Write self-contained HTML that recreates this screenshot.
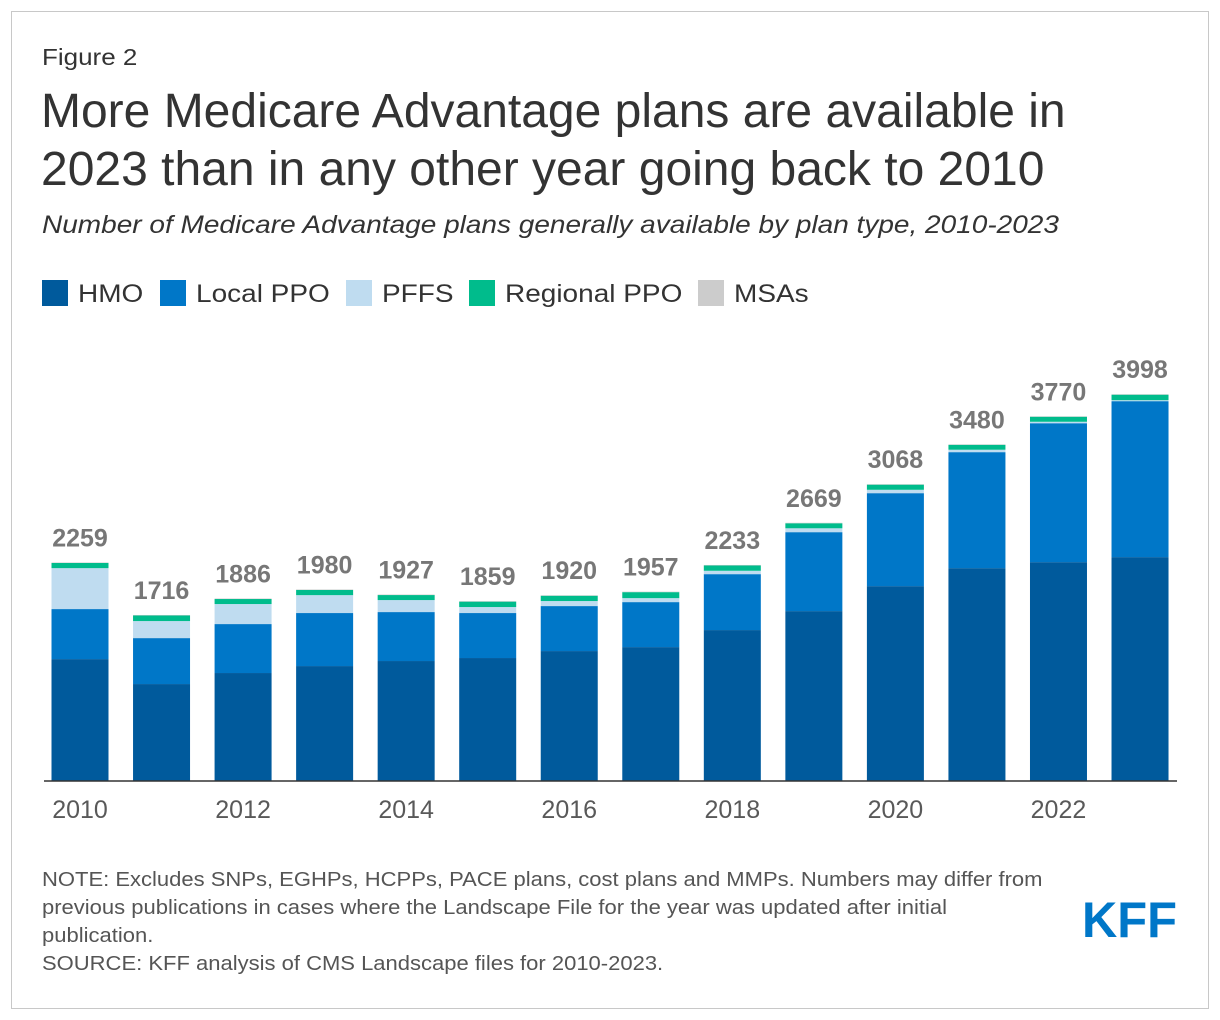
<!DOCTYPE html>
<html><head><meta charset="utf-8">
<style>
body{margin:0;background:#fff;font-family:"Liberation Sans",sans-serif;}
#frame{position:absolute;left:11px;top:11px;width:1196px;height:996px;border:1px solid #c8c8c8;}
.t{position:absolute;color:#333;white-space:nowrap;transform-origin:0 0;}
</style></head>
<body>
<div id="frame"></div>
<div class="t" style="left:42px;top:44px;font-size:23px;transform:scaleX(1.13);">Figure 2</div>
<div class="t" style="left:41px;top:83px;font-size:48px;line-height:58px;">More Medicare Advantage plans are available in<br>2023 than in any other year going back to 2010</div>
<div class="t" style="left:42px;top:211px;font-size:25px;font-style:italic;transform:scaleX(1.12);">Number of Medicare Advantage plans generally available by plan type, 2010-2023</div>
<svg width="1220" height="1020" style="position:absolute;left:0;top:0" id="chart">
<text x="1082" y="937" font-family="Liberation Sans" font-weight="bold" font-size="50" fill="#0077c8" textLength="95" lengthAdjust="spacingAndGlyphs">KFF</text>
</svg>
<div class="t" style="left:42px;top:866px;font-size:20px;line-height:28px;color:#555;transform:scaleX(1.1);">NOTE: Excludes SNPs, EGHPs, HCPPs, PACE plans, cost plans and MMPs. Numbers may differ from<br>previous publications in cases where the Landscape File for the year was updated after initial<br>publication.<br>SOURCE: KFF analysis of CMS Landscape files for 2010-2023.</div>
<script>
const years=[2010,2011,2012,2013,2014,2015,2016,2017,2018,2019,2020,2021,2022,2023];
const totals=[2259,1716,1886,1980,1927,1859,1920,1957,2233,2669,3068,3480,3770,3998];
const hmo=[1260,1002,1116,1188,1240,1271,1343,1384,1560,1756,2014,2200,2262,2314];
const localPpo=[517,475,506,548,506,465,465,465,578,816,961,1199,1436,1612];
const pffs=[423,176,207,185,124,62,52,41,35,40,35,25,15,10];
const regionalPpo=[54,58,52,54,52,56,55,62,55,52,53,51,52,57];
const msas=[5,5,5,5,5,5,5,5,5,5,5,5,5,5];
const seriesNames=["HMO","Local PPO","PFFS","Regional PPO","MSAs"];
const seriesColors=["#005a9c","#0077c8","#bfdcf0","#00bc8c","#cccccc"];
const svg=document.getElementById('chart');const NS="http://www.w3.org/2000/svg";
const base=781,scale=387/4000,slot=81.54,bw=57;
const yS=v=>base-v*scale;const xC=i=>80+slot*i;
function mk(t,a){const e=document.createElementNS(NS,t);for(const k in a)e.setAttribute(k,a[k]);svg.appendChild(e);return e;}
const series=[hmo,localPpo,pffs,regionalPpo,msas];
years.forEach((yr,i)=>{
 let cum=0;
 series.forEach((s,k)=>{
  const r=mk('rect',{x:xC(i)-bw/2,y:yS(cum+s[i]),width:bw,height:s[i]*scale,fill:seriesColors[k]});
  
  
  cum+=s[i];
 });
 const t=mk('text',{x:xC(i),y:yS(totals[i])-16,'text-anchor':'middle','font-size':25,'font-weight':'bold',fill:'#777','font-family':'Liberation Sans'});
 t.textContent=totals[i];
 
 
 if(i%2==0){const l=mk('text',{x:xC(i),y:818,'text-anchor':'middle','font-size':25,fill:'#595959','font-family':'Liberation Sans'});
 l.textContent=yr;
 
 }
});
const ax=mk('line',{x1:44,x2:1177,y1:base,y2:base,stroke:'#333','stroke-width':1.5});


const legX=[42,160,346,469,698];
seriesNames.forEach((n,k)=>{
 const r=mk('rect',{x:legX[k],y:280,width:26,height:26,fill:seriesColors[k]});
 
 
 const t=mk('text',{x:0,y:0,'font-size':25,fill:'#333','font-family':'Liberation Sans',transform:'translate('+(legX[k]+36)+',302) scale(1.12,1)'});
 t.textContent=n;
 
 
});
</script>
</body></html>
